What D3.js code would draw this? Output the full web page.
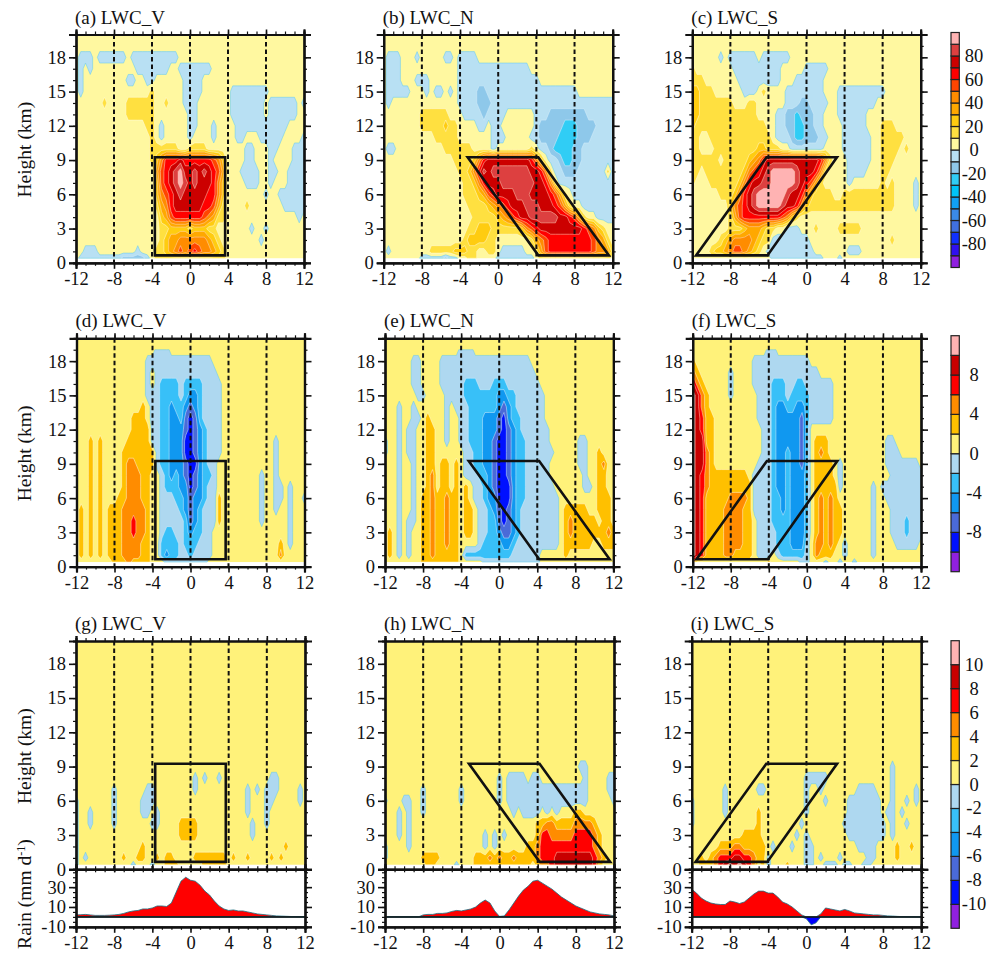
<!DOCTYPE html>
<html>
<head>
<meta charset="utf-8">
<script src="https://d3js.org/d3.v7.min.js"></script>
<style>
  body { margin: 0; background: #fff; }
  text { font-family: "Liberation Serif", serif; fill: #111; }
  .domain { stroke: #111; stroke-width: 2.2px; }
  .tick line { stroke: #111; stroke-width: 1.6px; }
  .minor line { stroke-width: 1.2px; }
  .field { filter: blur(0.7px); }
</style>
</head>
<body>
<div id="chart"></div>
<script>
// x is -12..12 every 0.5, rows go from 19 km down to 0.4 km. Values are the middle of the
// shaded band (1 = 0..2, -1 = -2..0, 3 = 2..4 ...). Short rows just carry on as background.
var xs = d3.range(-12, 12.01, 0.5);
var heights = [19,18,17,16,15,14,13,12,11,10,9,8,7,6,5,4,3,2,1,0.4];

var lwcA = [
[],
[1,-1,-1,-1,1,-1,-1,-1,-1,-1,-1,1,-1,-1,-1,-1,-1,-1,-1,-1,-1,-1,1,1],
[1,-1,1,-1,1,1,1,1,1,1,1,1,1,-1,-1,-1,-1,-1,-1,-1,1,1,-1,-1,-1,-1,-1,-1,-1],
[1,-1,1,1,1,1,1,1,1,1,1,-1,-1,1,1,-1,-1,1,1,1,1,1,1,-1,-1,-1,-1],
[1,-1,1,1,1,1,1,1,1,1,1,1,1,1,1,1,3,1,1,1,1,1,1,-1,-1,-1,-1,1,1,1,1,1,1,-1,-1,-1,-1,-1,-1,-1,-1],
[1,1,1,1,1,1,3,1,1,1,1,3,3,3,3,3,3,1,1,3,1,1,1,-1,-1,-1,1,1,1,1,1,1,1,-1,-1,-1,-1,-1,-1,-1,1,-1,-1,-1,-1,-1,-1,1,-1],
[1,1,1,1,1,1,1,1,1,1,1,3,3,3,3,3,3,1,1,1,1,1,1,1,-1,-1,1,1,1,1,1,1,1,-1,-1,-1,-1,-1,-1,-1,1,-1,-1,-1,-1,-1,-1,1,1],
[1,1,1,1,1,1,1,1,1,1,1,1,1,1,1,3,3,1,-1,1,1,1,1,1,-1,-1,1,1,1,-1,1,1,1,1,-1,-1,-1,-1,-1,-1,-1,-1,-1,-1,-1],
[1,1,1,1,1,1,1,1,1,1,1,1,1,1,1,1,3,1,-1,1,1,1,1,1,-1,1,1,1,1,-1,1,1,1,1,-1,-1,1,1,1,-1,-1,-1,-1,-1,1,1,1,1,-1],
[1,1,1,1,1,1,1,1,1,1,1,1,1,1,1,1,3,3,3,3,3,3,1,1,3,3,3,3,1,1,1,1,1,1,1,1,-1,-1,1,1,1,-1,-1,1,1,1,-1,-1,-1],
[1,1,1,1,1,1,1,1,1,1,1,1,1,1,1,1,3,5,9,13,13,13,15,13,13,13,13,13,13,11,9,5,1,1,1,1,-1,-1,1,1,1,-1,1,1,1,1,-1,-1,-1],
[1,1,1,1,1,1,1,1,1,1,1,1,1,1,1,1,1,7,11,13,15,17,19,15,15,17,15,17,15,13,11,7,1,1,1,-1,-1,-1,-1,1,1,-1,-1,1,1,-1,-1,-1,-1],
[1,1,1,1,1,1,1,1,1,1,1,1,1,1,1,1,1,5,11,13,15,17,19,17,15,17,15,15,15,13,9,5,1,1,1,1,-1,-1,-1,1,1,-1,1,1,1,-1,-1,-1,-1],
[1,1,1,1,1,1,1,1,1,1,1,1,1,1,1,1,1,5,9,11,13,15,17,15,15,15,15,15,13,13,9,5,1,1,1,1,1,1,1,1,-1,1,1,-1,-1,-1,-1,-1,-1],
[1,1,1,1,1,1,1,1,1,1,1,1,1,1,1,1,1,3,7,9,13,15,15,15,15,15,15,13,13,11,7,3,1,1,1,1,3,1,1,1,1,1,1,1,-1,-1,-1,-1,-1],
[1,1,1,1,1,1,1,1,1,1,1,1,1,1,1,1,1,1,5,7,11,13,13,13,13,13,13,11,9,7,3,3,1,1,1,1,1,1,1,1,1,1,1,1,1,1,1,-1],
[1,1,1,1,1,1,1,1,1,1,1,1,1,1,1,1,1,1,3,3,5,5,5,5,3,5,5,5,3,3,1,1,1,1,1,1,1,-1,1,1,-1],
[1,1,1,1,1,1,1,1,1,1,1,1,1,1,1,1,1,1,3,5,7,7,9,9,9,9,9,9,7,5,3,1,1,1,1,1,1,1,1,-1],
[1,1,-1,-1,-1,1,1,1,1,1,1,1,1,-1,1,1,1,3,3,5,7,9,11,9,11,13,11,9,9,7,5,3],
[1,-1,-1,-1,-1,-1,-1,-1,-1,-1,-3,-3,-3,-3,-3,-1,1,3,3,3,3,3,3,3,3,3,3,3,3,3,3,3]
];

var lwcB = [
[],
[1,-1,-1,-1,1,1,1,-1,1,1,1,1,1,-1,-1,1,-1,-1,-1,-1,1,1,1,1],
[1,-1,-1,-1,1,1,1,1,1,1,1,1,1,1,1,1,-1,-1,-1,-1,-1,-1,-1,-1,-1,-1,-1,-1,-1,-1,-1],
[1,-1,-1,-1,1,1,1,-1,-1,-1,1,1,1,1,1,1,-1,-1,-1,-1,-1,-1,-1,-1,-1,-1,-1,-1,-1,-1,-1,-1,-1],
[1,-1,-1,-1,-1,-1,1,1,1,-1,1,-1,-1,1,-1,1,-1,-1,-1,-1,-3,-3,-1,-1,-1,-1,-1,-1,-1,-1,-1,-1,-1,-1,-1,-1,-1,-1,-1,-1,-1],
[1,-1,1,1,1,1,1,1,1,1,1,1,1,1,1,1,-1,-1,-1,-1,-3,-3,-3,-1,-1,-1,-1,-1,-1,-1,-1,-1,-1,-1,-1,-1,-1,-1,-1,-1,-1,-1,-1,-1,-1,-1,-1,-1,-1],
[1,1,1,1,1,1,1,1,3,3,3,3,3,3,1,1,1,-1,-1,-1,-1,-3,-1,-1,-1,-1,1,1,1,1,1,1,-1,-1,-1,-3,-3,-3,-3,-3,-3,-3,-3,-1,-1,-1,-1,-1,-1],
[1,1,1,1,1,1,1,1,3,3,3,3,3,5,3,3,1,1,1,1,-1,-1,1,-1,-1,1,1,1,1,1,1,1,-1,-3,-3,-3,-3,-3,-5,-5,-5,-3,-3,-3,-3,-1,-1,-1,-1],
[1,1,1,1,1,1,1,1,1,1,1,3,3,3,3,3,1,1,1,1,1,1,1,-1,-1,-1,1,1,1,1,1,-1,-1,-3,-3,-3,-3,-5,-5,-5,-5,-3,-3,-3,-1,-1,-1,-1,-1],
[1,-1,-1,1,1,1,1,1,1,1,1,1,1,3,3,3,3,3,3,1,1,1,1,-1,1,1,1,1,1,1,1,3,1,-1,-1,-3,-5,-5,-5,-5,-3,-3,-1,-1,-1,-1,-1,-1,-1],
[1,1,1,1,1,1,1,1,1,1,1,1,1,1,1,3,3,3,3,5,9,13,15,15,15,15,15,15,15,15,15,13,9,5,1,-1,-1,-3,-5,-5,-3,-3,-1,-1,-1,-1,-1,-1,-1],
[1,1,1,1,1,1,1,1,1,1,1,1,1,1,1,1,3,3,5,9,13,17,15,17,17,17,17,17,17,17,17,15,15,13,9,3,-1,-1,-3,-3,-3,-1,-1,-1,-1,-1,-1,3,-1],
[1,1,1,1,1,1,1,1,1,1,1,1,1,1,1,1,1,3,3,5,9,13,15,15,15,17,17,17,17,17,17,17,15,15,13,9,3,-1,-1,-1,-1,-1,-1,-1,-1,-1,-1,-1,-1],
[1,1,1,1,1,1,1,1,1,1,1,1,1,1,1,1,1,3,3,3,5,7,11,13,15,15,15,15,17,17,17,15,15,15,15,13,11,7,3,1,-1,-1,-1,-1,-1,-1,-1,-1,-1],
[1,1,1,1,1,1,1,1,1,1,1,1,1,1,1,1,1,1,3,3,3,3,5,7,9,11,13,15,15,15,17,17,17,15,15,15,13,11,7,3,1,1,-1,-1,-1,-1,-1,-1,-1],
[1,1,1,1,1,1,1,1,1,1,1,1,1,1,1,1,1,1,1,3,3,3,3,3,5,7,9,11,13,15,15,17,17,17,17,17,17,15,15,13,11,7,3,1,1,-1,-1,-1,-1],
[1,1,1,1,1,1,1,1,1,1,1,1,1,1,1,1,1,1,3,3,5,5,5,3,3,3,3,3,3,5,9,11,13,15,15,15,15,15,15,15,15,15,13,11,9,5,3,1,1],
[1,1,1,1,1,1,1,1,1,1,1,1,1,1,1,1,1,3,5,5,5,5,3,3,1,1,1,1,1,1,1,3,7,9,11,13,13,13,13,13,13,13,13,13,11,9,7,3],
[1,-1,1,1,1,1,1,1,1,1,3,3,3,3,3,5,5,5,3,3,1,1,3,3,1,-1,-1,-1,-1,-1,1,1,3,7,11,13,13,13,13,13,13,13,13,13,11,9,9,7,3],
[1,1,1,1,1,1,1,1,-1,-1,-1,-1,-1,-3,-1,-1,1,1,3,3,1,1,1,1,-1,-1,-1,-1,-1,-1,-1,-1,1,3,3,3,3,3,3,3,3,3,3,3,3,3,3,3]
];

var lwcC = [
[],
[1,1,1,1,1,1,-1,1,-1,-1,-1,-1,-1,-1,1,-1,-1,-1,-1,-1,-1,1],
[3,1,1,1,1,1,1,1,1,-1,-1,-1,-1,-1,-1,-1,-1,-1,-1,1,1,1,1,1,-1,-1,-1,-1,-1,1],
[3,3,3,1,1,1,1,1,1,1,-1,-1,-1,-1,-1,-1,-1,-1,-1,1,1,1,-1,-1,-1,-1,-1,-1,1],
[5,5,3,3,3,1,1,1,1,1,1,-1,-1,-1,1,3,1,1,1,1,-1,-1,-1,-1,-1,-1,-1,-1,1,1,1,-1,-1,-1,-1,-1,-1,-1,-1,-1,-1,1],
[5,5,3,3,3,3,3,3,3,1,1,1,3,3,1,1,1,1,1,1,-1,-1,-1,-3,-3,-1,-1,-1,-1,1,1,-1,-1,-1,-1,-1,-1,-1,-1,1],
[5,5,3,3,3,3,3,3,3,3,3,3,3,3,1,1,1,1,-1,-1,-3,-3,-5,-3,-3,-3,-1,-1,1,1,1,-1,-1,-1,-1,-1,-1,1],
[5,3,3,3,3,3,3,3,3,3,3,3,3,3,3,3,1,1,-1,-1,-3,-3,-5,-5,-3,-3,-1,-1,1,1,1,1,-1,-1,-1,-1,-1,1,1,1,3,3,3,1,1],
[3,3,1,1,3,3,3,3,3,3,3,3,3,3,3,3,3,1,-1,-1,-1,-3,-5,-5,-3,-3,-3,-1,-1,1,1,1,-1,-1,-1,-1,-1,-1,1,1,3,3,3,3,3,1],
[3,3,1,1,1,3,3,3,3,3,3,3,3,3,5,5,3,3,3,1,1,-1,-1,-1,-1,-1,-1,-1,1,1,1,1,-1,-1,-1,-1,-1,-1,1,1,3,3,3,3,1,3],
[3,3,3,3,3,3,1,3,3,3,3,3,5,7,9,13,15,15,15,15,15,15,15,15,15,15,15,13,9,3,1,1,1,-1,-1,-1,-1,-1,1,1,3,3,3,1],
[3,3,1,3,3,3,3,3,3,3,3,5,9,11,13,15,17,19,19,19,19,19,17,15,15,15,13,9,3,1,1,1,1,-1,-1,-1,-1,1,1,1,3,3,1,1],
[3,1,1,1,3,3,3,3,3,3,5,9,13,15,15,17,17,19,19,19,19,19,17,15,13,11,7,3,1,1,1,1,1,-1,1,1,1,1,1,1,3,1,3,1,1,1,1,-1],
[1,1,1,1,1,1,3,3,3,5,9,13,15,17,19,19,19,19,19,19,17,15,15,13,9,5,3,3,3,3,1,1,3,3,3,3,3,3,3,3,3,3,3,1,1,1,1,-1],
[1,1,1,1,1,1,1,1,5,9,11,13,15,17,19,19,19,19,19,17,15,15,13,9,5,3,3,3,3,3,3,3,3,3,3,3,3,3,3,3,3,3,3,1,1,1,1,-1],
[1,1,1,1,1,1,1,1,3,7,11,13,13,13,13,13,13,13,13,11,9,5,3,1,1,1,1,1,1,1,1,1,1,1,1,1,1,1,1,1,1,1,1,1,1,1,1,1],
[1,1,1,1,1,1,1,1,3,3,3,5,7,7,7,5,3,3,1,1,-1,-1,-1,1,1,1,3,1,1,1,1,3,3,3,3,3,1,1],
[1,1,1,1,1,1,3,5,7,9,9,9,9,7,5,3,3,-1,-1,-1,-1,-1,-1,-1,-1,1,1,1,1,1,1,1,1,1,1,1,1,1,1,1,1,1,3],
[1,1,1,1,3,5,5,7,9,11,11,9,7,5,3,1,-1,-1,-1,-1,-1,-1,-1,-1,-1,-1,1,1,1,1,1,1,1,-1,-1,-1],
[1,1,1,1,1,1,1,1,1,1,1,1,1,1,1,1,1,-1,-1,-1,-1,-1,-1,-1,-1,-1,-1,-1,1,1,1,-1]
];

var lwcD = [
[1,1,1,1,1,1,1,1,1,1,1,1,1,1,1,1,1,-1,-1,-1],
[1,1,1,1,1,1,1,1,1,1,1,1,1,1,1,-1,-1,-1,-1,-1,-1,-1,-1,-1,-1,-1,-1,-1,-1],
[1,1,1,1,1,1,1,1,1,1,1,1,1,1,1,-1,1,-1,-1,-1,-1,-1,-1,-1,-1,-1,-1,-1,-1,-1],
[1,1,1,1,1,1,1,1,1,1,1,1,1,1,1,-1,1,-1,-3,-3,-3,-3,-1,-3,-3,-3,-3,-1,-1,-1,-1],
[1,1,1,1,1,1,1,1,1,1,1,1,1,1,1,-1,-1,-1,-3,-3,-3,-3,-1,-3,-5,-5,-3,-1,-1,-1,-1],
[1,1,1,1,1,1,1,1,1,1,1,1,1,1,3,1,-1,-1,-3,-3,-5,-3,-3,-5,-7,-5,-3,-1,-1,-1,-1],
[1,1,1,1,1,1,1,1,1,1,1,1,3,3,3,1,-1,-1,-3,-3,-5,-5,-3,-7,-9,-7,-3,-1,-1,-1,-1],
[1,1,1,1,1,1,1,1,1,1,1,1,3,3,3,3,-1,-1,-3,-3,-5,-5,-5,-7,-9,-7,-5,-3,-1,-1,-1],
[1,1,1,3,1,3,1,1,1,1,1,3,3,3,3,3,-1,-1,-3,-3,-5,-5,-5,-9,-9,-7,-5,-3,-1,-1,-1,1,1,1,1,1,1,1,1,1,1,1,-1],
[1,1,1,3,1,3,1,1,1,1,3,3,3,3,3,3,3,-1,-3,-3,-5,-5,-5,-9,-9,-7,-5,-3,-1,-1,-1,1,1,1,1,1,1,1,1,1,1,1,-1],
[1,1,1,3,1,3,1,1,1,1,3,5,5,3,3,3,3,-1,-3,-3,-5,-5,-5,-7,-9,-9,-5,-3,-1,-1,1,1,1,1,1,1,1,1,1,1,1,1,-1],
[1,1,1,3,1,3,1,1,1,1,3,5,5,5,3,3,1,1,-1,-3,-5,-3,-5,-7,-9,-7,-5,-3,-3,-1,1,1,1,1,1,1,1,1,1,-1,1,1,-1],
[1,1,1,3,1,3,1,1,1,1,3,5,5,5,3,3,1,1,-1,-3,-3,-3,-5,-5,-9,-7,-5,-3,-1,-1,1,1,1,1,1,1,1,1,1,-1,1,1,-1,-1,1,-1],
[1,1,1,3,1,3,1,1,1,3,3,5,5,5,3,3,1,1,-1,-1,-1,-3,-3,-5,-7,-5,-5,-3,-1,-1,3,1,1,1,1,1,1,1,1,-1,1,1,-1,-1,1,-1,1,1,-1],
[1,3,1,3,1,3,1,3,3,3,5,5,5,5,5,3,1,1,-1,-1,-1,-1,-3,-5,-7,-5,-3,-1,-1,-1,3,1,1,1,1,1,1,1,1,-1,1,1,-1,1,1,-1],
[1,3,1,3,1,3,1,3,3,3,5,5,7,5,5,3,1,1,-1,-1,-1,-1,-1,-3,-7,-5,-3,-1,-1,-1,3,1,1,1,1,1,1,1,1,-1,1,1,1,1,1,-1],
[1,3,1,3,1,3,1,3,3,3,5,5,7,5,5,3,1,1,-1,-3,-3,-1,-1,-3,-5,-3,-3,-1,-1,1,1,1,1,1,1,1,1,1,1,1,1,1,1,1,1,-1],
[1,3,1,3,1,3,1,3,3,3,5,5,5,5,3,3,1,1,-3,-3,-3,-3,-1,-3,-3,-3,-1,-1,-1,1,1,1,1,1,1,1,1,1,1,1,1,1,1,3,1,-1],
[1,3,1,3,1,3,1,3,3,3,5,5,5,5,3,3,1,1,-3,-5,-3,-3,-1,-1,-3,-1,-1,-1,-1,1,1,1,1,1,1,1,1,1,1,1,1,1,1,5],
[1,1,1,1,1,1,1,1,3,3,3,5,3,3,3,3,1,1,1,-1,-1,-1,-1,-1,-1,-1,-1,-1]
];

var lwcE = [
[1,1,1,1,1,1,1,1,1,1,1,1,1,1,1,1,-1,-1,-1,1],
[1,1,1,1,1,1,-1,-1,1,1,1,1,-1,-1,-1,-1,-1,-1,-1,-1,-1,-1,-1,-1,-1,-1,-1,-1,-1,-1,-1],
[1,1,1,1,1,1,-1,-1,1,1,1,1,-1,-1,-1,-1,-1,-1,-1,-1,-1,-1,-1,-1,-1,-1,-1,-1,-1,-1,-1,-1],
[1,1,1,1,1,1,-1,-1,1,1,1,1,-1,-1,-1,-1,-1,-3,-3,-3,-1,-1,-1,-3,-3,-3,-1,-1,-1,-1,-1,-1,-1],
[1,1,1,1,1,1,1,-1,-1,1,1,1,1,-1,-1,-1,-1,-3,-3,-3,-3,-3,-3,-3,-5,-5,-3,-3,-1,-1,-1,-1,-1,-1],
[1,1,1,-1,1,1,-1,1,1,1,1,1,1,-1,1,-1,-1,-1,-3,-3,-3,-3,-3,-3,-5,-7,-5,-3,-1,-1,-1,-1,-1,-1],
[1,1,1,-1,1,1,-1,-1,1,3,1,1,1,-1,1,1,-1,-1,-3,-3,-3,-5,-5,-5,-7,-9,-5,-3,-3,-1,-1,-1,-1,-1],
[1,1,1,-1,1,-1,-1,1,1,3,3,1,1,-1,1,1,-1,-1,-3,-3,-3,-5,-5,-5,-7,-9,-7,-5,-3,-1,-1,-1,-1,-1,-1],
[-1,1,1,-1,1,-1,-1,1,1,3,3,1,1,-1,1,1,-1,-1,-3,-3,-3,-5,-5,-7,-9,-9,-7,-5,-3,-3,-1,-1,-1,-1,-1,1,1,1,1,1,1,-1,-1],
[-1,1,1,-1,1,-1,-1,1,1,3,3,1,1,1,1,1,1,-1,-1,-3,-3,-5,-5,-7,-9,-9,-7,-5,-3,-3,-1,-1,-1,-1,-1,-1,1,1,1,1,1,-1,-1,1,1,3],
[1,1,1,-1,1,1,-1,1,1,3,3,1,3,3,1,3,1,-1,-1,-3,-3,-5,-5,-7,-9,-9,-7,-5,-3,-3,-1,-1,-1,-1,-1,1,1,1,1,1,1,-1,-1,1,1,3,5],
[1,1,1,-1,1,1,-1,1,1,3,5,1,3,3,1,3,1,-1,-1,-1,-3,-3,-5,-7,-9,-9,-7,-5,-3,-3,-1,-1,-1,-1,-1,1,1,1,1,1,1,1,-1,1,1,3,3],
[1,1,1,-1,1,1,-1,1,1,3,5,1,3,3,1,3,1,3,1,-1,-1,-3,-5,-7,-9,-9,-9,-5,-3,-3,-1,-1,-1,-1,-1,-1,1,1,1,1,1,1,-1,-1,1,3,3],
[1,1,1,-1,1,1,-1,1,3,3,5,3,3,5,3,3,1,3,1,-1,-1,-3,-5,-5,-9,-9,-9,-5,-3,-3,-1,-1,-1,-1,-1,-1,-1,1,1,1,1,1,1,1,1,3,3,3],
[1,1,1,-1,1,1,-1,1,3,3,5,3,3,5,3,3,1,3,3,1,-1,-1,-3,-5,-7,-9,-7,-5,-3,-1,-1,-1,-1,-1,-1,-1,-1,1,3,3,3,3,3,1,1,3,3,3],
[1,1,1,-1,1,-1,-1,1,3,3,5,3,3,5,3,3,1,3,3,1,-1,-1,-3,-3,-7,-9,-7,-5,-3,-1,-1,-1,-1,-1,-1,-1,-1,1,3,5,3,3,3,3,3,1,3,3],
[1,3,1,-1,1,-1,1,1,3,3,5,3,3,5,3,3,1,3,3,1,-1,-1,-3,-3,-5,-7,-7,-5,-3,-1,-1,-1,-1,-1,-1,-1,-1,1,3,5,3,3,3,3,3,3,3,5,3],
[1,3,1,-1,1,-1,1,1,3,3,5,3,3,5,3,3,1,1,1,1,-1,-3,-3,-3,-3,-5,-5,-3,-1,-1,-1,-1,-1,-1,-1,-1,-1,1,3,3,3,3,3,3,1,1,3,3,3],
[1,3,1,-1,1,-1,1,1,3,3,5,3,3,3,3,3,1,-3,-3,-3,-3,-3,-3,-3,-3,-3,-3,-1,-1,-1,-1,-1,-1,1,1,1,1,1,3,1,1,1,1,1],
[1,1,1,1,1,1,1,1,3,3,3,3,3,3,3,3,1,1,1,1,1,-1,-1,-1,-1,-1,-1,-1,-1,-1,-1,-1,-1]
];

var lwcF = [
[1,1,1,1,1,1,1,1,1,1,1,1,1,1,1,1,-1,-1,1],
[3,1,1,1,1,1,1,1,1,1,1,1,1,-1,-1,-1,-1,-1,-1,-1,-1,-1,-1,-1,-1],
[5,3,1,1,1,1,1,1,-1,1,1,1,1,-1,-1,-1,-1,-1,-1,-1,-1,-1,-1,-1,-1,-1,-1],
[9,5,3,1,1,1,1,1,-1,1,1,1,1,-1,-1,-1,-1,-3,-3,-3,-1,-1,-3,-3,-1,-1,-1,-1,-1,-1],
[11,9,5,3,1,1,1,1,-1,1,1,1,1,1,-1,-1,-1,-3,-3,-3,-1,-3,-3,-3,-3,-1,-1,-1,-1,-1,1],
[11,9,5,3,1,1,1,1,1,1,1,1,1,1,-1,-1,-1,-3,-5,-5,-3,-3,-5,-5,-3,-1,-1,-1,-1,-1,1],
[11,9,7,3,3,1,1,1,1,1,1,1,1,1,-1,-1,-1,-3,-5,-5,-5,-5,-5,-7,-3,-1,-1,-1,-1,-1,1],
[11,9,7,3,3,1,1,1,1,1,1,1,1,1,1,-1,-1,-3,-5,-5,-5,-5,-5,-7,-3,1,1,1,1,1,1],
[11,9,9,3,3,1,1,1,1,1,1,1,1,1,1,-1,-1,-3,-5,-5,-5,-5,-5,-7,-3,1,3,3,3,1,1,1,1,1,1,1,1,1,1,1,1,-1,-1,1,1],
[11,9,9,5,3,1,1,1,1,1,1,1,1,1,1,-1,-1,-3,-5,-5,-3,-5,-5,-7,-3,1,3,5,3,1,1,1,1,1,1,1,1,1,1,1,1,-1,-1,-1,1,1],
[11,9,9,5,3,1,1,1,1,1,1,1,1,1,-1,-1,-1,-3,-5,-5,-3,-5,-5,-7,-3,1,3,3,3,3,1,-1,1,1,1,1,1,1,1,1,1,-1,-1,-1,-1,-1,-1,-1],
[11,9,7,5,3,3,3,3,3,3,3,3,1,-1,-1,-1,-1,-3,-5,-5,-3,-5,-5,-5,-3,1,3,3,3,3,1,-1,1,1,1,1,1,1,1,1,1,1,-1,-1,-1,-1,-1,-1,-1],
[11,9,7,5,3,3,3,3,3,3,3,3,3,-1,-1,-1,-1,-3,-5,-5,-3,-5,-5,-5,-3,1,3,3,3,3,3,-1,1,1,1,1,1,1,-1,1,-1,-1,-1,-1,-1,-1,-1,-1,-1],
[11,9,7,3,3,3,3,3,5,5,5,5,3,-1,-1,-1,-1,-3,-3,-5,-3,-5,-5,-5,-3,1,3,5,3,5,3,1,1,1,1,1,1,1,-1,1,1,-1,-1,-1,-1,-1,-1,-1,-1],
[11,9,7,3,3,3,3,5,5,5,5,3,3,-1,-1,-1,-1,-3,-3,-5,-3,-5,-5,-5,-3,1,3,5,3,5,3,3,1,1,1,1,1,1,-1,1,1,1,-1,-1,-1,-1,-1,-1,-1],
[11,9,7,3,3,3,3,5,5,5,5,3,3,1,-1,-1,-1,-3,-3,-3,-3,-5,-5,-5,-3,1,3,5,3,5,3,3,1,1,1,1,1,1,-1,1,1,1,-1,-1,-1,-3,-1,-1,-1],
[11,9,7,3,3,3,3,5,5,5,5,3,3,1,-1,-1,-1,-1,-3,-3,-3,-5,-5,-5,-3,1,3,5,3,5,3,3,1,1,1,1,1,1,-1,1,1,1,-1,-1,-1,-3,-1,-1,-1],
[11,9,7,3,3,3,3,5,5,5,5,3,3,1,-1,-1,-1,-1,-3,-3,-3,-5,-5,-5,-1,1,5,5,3,5,3,1,-1,1,1,1,1,1,-1,1,1,1,1,-1,-1,-1,-1,-1],
[11,9,7,3,3,3,3,5,5,3,3,3,3,1,-1,-1,-1,1,-1,-3,-3,-3,-3,-3,-1,1,5,3,3,3,1,1,-1,1,1,1,1,1,-1,1,1,1,1,1,1,1,1,1],
[5,1,1,1,1,1,1,1,1,1,1,1,1,1,1,1,3,1,1,1,1,1,1,-1,-1,1,1,1,-1,1,1,-1,1,1,-1]
];

// bottom row: only the rows up to 9 km are written, everything above is background
var lwcG = [
[],
[],
[1,1,1,1,1,1,1,1,1,1,1,1,1,1,1,1,1,1,1,1,1,1,1,1,1,-1,1,-1,1,1,-1,1,1,1,1,1,1,1,1,1,1,-1,-1],
[1,1,1,1,1,1,1,1,-1,1,1,1,1,1,1,-1,-1,1,1,1,1,1,1,1,1,-1,1,1,1,1,1,1,1,1,1,1,-1,1,-1,1,-1,-1,-1,1,1,1,1,-1],
[-1,1,1,1,1,1,1,1,-1,1,1,1,1,1,-1,-1,-1,1,1,1,1,1,1,1,1,1,1,1,1,1,1,1,1,1,1,1,-1,1,1,1,-1,-1,1,1,1,1,1,-1],
[-1,1,1,-1,1,1,1,1,-1,1,1,1,1,1,-1,-1,1,-1,1,1,1,1,1,1,1,1,1,1,1,1,1,1,1,1,1,1,-1,1,1,1,-1,1],
[-1,1,1,-1,1,1,1,1,-1,1,1,1,1,1,1,1,-1,-1,1,1,1,1,3,3,3,3,1,1,1,1,1,1,1,1,1,1,1,-1,1,1,-1,1],
[-1,1,1,1,1,1,1,1,1,1,1,1,1,1,1,1,1,1,1,1,1,1,3,3,3,3,1,1,1,1,1,1,1,1,1,1,1,-1],
[-1,1,1,1,1,1,1,1,1,1,1,1,1,1,3,1,1,1,1,1,1,1,1,1,1,1,1,1,1,1,1,1,1,1,1,1,1,1,1,1,1,1,1,1,3],
[-1,1,-1,1,1,1,1,1,1,1,3,1,1,3,3,1,1,3,1,3,3,1,1,1,1,3,3,3,3,3,3,3,1,3,1,1,3,1,1,1,1,3,1,3],
[-1,1,1,1,1,1,1,1,1,1,1,1,-1,1,1,1,-1,1,1,3,3,3,1,1,1,1,1,3,3,3,3,3,1,1,1,1,1,1,1,1,1,1,1,1]
];

var lwcH = [
[],
[1,1,1,1,1,1,1,1,1,1,1,1,1,1,1,1,1,1,1,1,1,1,1,1,1,1,1,1,1,1,1,1,1,1,1,1,1,1,1,1,1,-1,-1],
[1,1,1,1,1,1,1,1,1,1,1,1,1,1,1,1,1,1,1,1,1,1,1,1,-1,1,-1,-1,-1,-1,1,-1,-1,1,1,1,1,1,1,1,1,1,-1,1,1,1,1,-1,-1],
[1,1,1,1,1,1,1,1,-1,1,1,1,1,1,1,1,-1,1,1,1,1,1,1,1,-1,1,-1,-1,-1,-1,-1,-1,-1,-1,-1,-1,-1,-1,-1,-1,-1,-1,-1,1,1,1,1,-1,-1],
[-1,1,1,1,-1,-1,1,1,-1,1,1,1,1,1,1,1,-1,1,1,1,1,1,1,1,-1,1,-1,-1,-1,-1,-1,-1,-1,-1,-1,-1,-1,-1,-1,-1,-1,-1,-1,1,1,1,1,1,-1],
[1,1,1,-1,1,-1,1,1,-1,1,1,1,1,1,1,1,1,1,1,1,1,1,1,1,1,1,1,-1,1,-1,-1,-1,-1,1,-1,1,-1,1,1,1,3,3,1],
[1,1,1,-1,1,-1,1,1,1,1,1,1,1,1,1,1,1,1,1,1,1,1,1,1,1,1,1,1,1,1,1,1,3,3,5,5,3,3,3,3,5,5,5,5,3,1],
[1,1,1,-1,1,-1,1,1,1,1,1,1,1,1,1,1,1,1,1,1,1,-1,1,-1,1,-1,1,1,1,1,1,1,3,7,7,5,5,5,5,5,7,7,7,7,5,3],
[-1,1,1,1,1,-1,1,1,1,1,1,1,1,1,1,1,1,1,1,1,1,-1,1,-1,1,1,1,1,1,1,3,3,5,7,7,7,7,7,7,7,7,7,7,7,5,3,1],
[-1,1,1,1,1,1,1,1,3,3,3,3,1,1,1,1,1,1,1,3,3,3,5,3,5,3,3,5,3,3,3,3,5,7,7,7,9,9,9,9,9,9,9,9,7,5,3],
[1,1,1,1,1,1,1,1,1,3,3,1,1,1,1,-1,1,1,1,3,3,3,3,3,3,3,3,3,3,3,3,1,3,5,5,7,9,9,9,9,9,9,9,9,7,3]
];

var lwcI = [
[],
[1,1,1,1,1,1,1,1,1,1,1,1,1,1,1,1,1,1,1,1,1,1,1,1,1,1,1,1,1,1,1,1,1,1,1,1,1,1,1,1,1,1,-1,1],
[1,1,1,1,1,1,1,1,1,1,1,1,1,1,1,1,1,1,1,1,1,1,1,1,-1,-1,-1,-1,-1,1,1,1,1,1,1,1,1,1,1,1,1,1,-1,1],
[1,1,1,1,1,1,1,-1,1,1,1,1,1,1,-1,-1,1,1,1,1,1,1,1,1,-1,1,1,-1,1,1,1,1,1,1,1,-1,-1,-1,-1,1,1,1,-1,1,1,1,1,-1,1],
[-1,1,1,1,1,1,1,-1,1,1,1,1,1,1,1,1,1,1,1,1,1,1,1,1,-1,1,1,1,-1,1,1,1,1,-1,-1,-1,-1,-1,-1,-1,1,1,-1,1,1,-1,1,-1],
[-1,1,1,1,1,1,1,-1,1,1,1,1,1,1,3,1,1,1,1,1,1,1,1,1,-1,1,1,1,1,1,1,1,1,-1,-1,-1,-1,-1,-1,-1,1,-1,-1,1,-1,1],
[-1,1,1,1,1,1,1,1,1,1,1,1,1,1,3,1,1,1,1,1,1,1,1,-1,1,1,1,1,1,1,1,1,-1,-1,-1,-1,-1,-1,-1,-1,-1,1,-1,1,1,-1],
[1,1,1,1,1,1,1,1,1,1,1,3,3,3,3,1,1,1,1,1,1,1,-1,1,-1,1,1,1,1,1,1,1,1,-1,-1,-1,-1,-1,-1,-1,-1,1,-1,1],
[1,1,1,1,1,1,3,3,3,5,5,3,3,3,3,3,1,-1,1,1,1,-1,1,1,-1,-1,1,1,1,1,1,1,1,1,1,-1,-1,-1,-1,1,1,1,1,3,1,1,3],
[1,1,3,1,3,5,7,7,7,9,9,7,7,5,3,3,-1,1,1,1,1,1,1,1,-1,-1,1,-1,1,1,1,-1,1,1,1,1,1,-1,-1,1,1,1,1,3],
[1,1,3,3,3,5,7,9,11,9,11,9,7,5,1,3,-1,1,1,1,3,1,1,1,-1,-1,1,1,-1,-1,-1,1,-1,-1,1,1,-1,-1,1,1,1,1,1,1]
];

var rainV = [2,2.2,2.5,2,1.5,1.5,1.5,1.7,2,2.5,3.5,5,6,6.5,8,8,9,11,11,10.5,14,25,36,40,37,36,32,26,22,16,11,8,6.5,7,6,6,5,4,3,2.5,2,1.5,1,0.8,0.6,0.4,0.3,0.2,0.1];
var rainN = [0,0,0,0,0,0,0,0,2,2.5,2.5,3.5,3.5,4,5.5,6.5,6,7,8,10,14,17,14,6,0.5,1,7,14,21,27,31,36,37,34,31,28,24,20,17,14,11,9,7,5,4,3,2.5,2,1];
var rainS = [28,24,19,16,14,13,12.5,12.5,16,15,13.5,15,19,23,26,26,24,24,20,15,13,10,6,2,-2,-8,-6,3,9,8,7,6,7.5,6,4,3.5,3,2.5,2,2,1.5,1,0.8,0.5,0.3,0.2,0.1,0,0];

// outlines of the advancing boxes, [x, km]
var boxV = [[-3.7,0.65],[3.7,0.65],[3.7,9.25],[-3.7,9.25]];
var boxN = [[4.2,0.65],[11.6,0.65],[4.2,9.25],[-3.2,9.25]];
var boxS = [[-11.6,0.65],[-4.1,0.65],[3.2,9.25],[-4.2,9.25]];

var xTicks = [-12,-8,-4,0,4,8,12];
var dashTicks = [-8,-4,0,4,8];
var hTicks = [0,3,6,9,12,15,18];
var rainTicks = [30,10,-10];

var posTop = ["#fff8a0","#ffe040","#ffcc10","#ffa800","#ff8c00","#ff4500","#ff0000","#cc0000","#dd4040","#ffb3b3"];
var negTop = ["#b8e0f3","#8ec8ea","#30cdf5","#00c4f8","#10a0f5","#3a8ae8","#4070e0","#1030ff","#3010f0","#9020e0"];
var posLow = ["#fff27a","#ffc000","#ff8c00","#ff0000","#c80000","#ffb3b3"];
var negLow = ["#aed8f0","#38c0f8","#1098f0","#4a6ad8","#0010ff","#9020e0"];

var topLabels = [80,60,40,20,0,-20,-40,-60,-80];
var midLabels = [8,4,0,-4,-8];
var lowLabels = [10,8,6,4,2,0,-2,-4,-6,-8,-10];

var svg = d3.select("#chart").append("svg").attr("width", 997).attr("height", 956);

var panels = [
  { name: "(a) LWC_V", grid: lwcA, box: boxV, left: 76,    top: 34.5,  w: 228,   pos: posTop, neg: negTop, yTitle: true },
  { name: "(b) LWC_N", grid: lwcB, box: boxN, left: 383.7, top: 34.5,  w: 229,   pos: posTop, neg: negTop },
  { name: "(c) LWC_S", grid: lwcC, box: boxS, left: 692.3, top: 34.5,  w: 228.4, pos: posTop, neg: negTop },
  { name: "(d) LWC_V", grid: lwcD, box: boxV, left: 76.5,  top: 338.3, w: 228,   pos: posLow, neg: negLow, yTitle: true },
  { name: "(e) LWC_N", grid: lwcE, box: boxN, left: 385,   top: 338.3, w: 228.4, pos: posLow, neg: negLow },
  { name: "(f) LWC_S", grid: lwcF, box: boxS, left: 692.7, top: 338.3, w: 228.3, pos: posLow, neg: negLow },
  { name: "(g) LWC_V", grid: lwcG, box: boxV, left: 76,    top: 641,   w: 229,   pos: posLow, neg: negLow, yTitle: true, rain: rainV },
  { name: "(h) LWC_N", grid: lwcH, box: boxN, left: 385,   top: 641,   w: 229,   pos: posLow, neg: negLow, rain: rainN },
  { name: "(i) LWC_S", grid: lwcI, box: boxS, left: 691.7, top: 641,   w: 229.5, pos: posLow, neg: negLow, rain: rainS }
];

var ph = 228.3;

panels.forEach(function(p, n) {
  var g = svg.append("g").attr("transform", "translate(" + p.left + "," + p.top + ")");
  var x = d3.scaleLinear().domain([-12, 12]).range([0, p.w]);
  var y = d3.scaleLinear().domain([0, 20]).range([ph, 0]);

  // pad the grid out, rows missing at the top and values missing at the end are background
  var rows = p.grid.slice();
  while (rows.length < heights.length) rows.unshift([]);
  var nx = xs.length, ny = heights.length;
  var values = [];
  rows.forEach(function(r) {
    for (var i = 0; i < nx; i++) values.push(i < r.length ? r[i] : 1);
  });

  var rowToKm = d3.scaleLinear().domain(heights.map(function(d, i) { return i + 0.5; })).range(heights).clamp(true);
  var colToX = d3.scaleLinear().domain([0.5, nx - 0.5]).range([-12, 12]).clamp(true);
  var path = d3.geoPath(d3.geoTransform({
    point: function(a, b) { this.stream.point(x(colToX(a)), y(rowToKm(b))); }
  }));
  var contours = d3.contours().size([nx, ny]).smooth(true);

  g.append("rect").attr("x", 0).attr("y", 0).attr("width", p.w).attr("height", y(0.4))
    .attr("fill", p.pos[0]);

  var field = g.append("g").attr("class", "field");
  // nested contours: 2,4,6.. upward on the values, 0,2,4.. upward on the negated values
  p.pos.slice(1).forEach(function(c, i) {
    field.append("path").attr("d", path(contours.contour(values, (i + 1) * 2)))
      .attr("fill", c).attr("stroke", i >= 2 ? "#ffd9c0" : "#fffbe0").attr("stroke-width", 0.5);
  });
  var flipped = values.map(function(v) { return -v; });
  p.neg.forEach(function(c, i) {
    field.append("path").attr("d", path(contours.contour(flipped, i * 2)))
      .attr("fill", c).attr("stroke", i == 0 ? "#5cc8f0" : "#d8eefa").attr("stroke-width", 0.5);
  });

  // dashed lines and the box
  g.selectAll(".dash").data(dashTicks).enter().append("line")
    .attr("x1", function(d) { return x(d); }).attr("x2", function(d) { return x(d); })
    .attr("y1", 0).attr("y2", ph)
    .attr("stroke", "#111").attr("stroke-width", 2).attr("stroke-dasharray", "4.5,3");

  var line = d3.line().x(function(d) { return x(d[0]); }).y(function(d) { return y(d[1]); }).curve(d3.curveLinearClosed);
  g.append("path").attr("d", line(p.box)).attr("fill", "none").attr("stroke", "#111")
    .attr("stroke-width", 2.6).attr("stroke-linejoin", "miter");

  drawAxes(g, x, y, ph, d3.range(-12, 13, 1), d3.range(0, 21, 1), hTicks, !p.rain);

  g.append("text").attr("x", -1).attr("y", -11).attr("font-size", 19).text(p.name);

  if (p.yTitle) {
    g.append("text").attr("transform", "translate(" + (31 - p.left) + "," + (ph / 2 + 1) + ") rotate(-90)")
      .attr("text-anchor", "middle").attr("font-size", 19.5).text("Height (km)");
  }

  if (p.rain) {
    var rh = 57.5;
    var r = g.append("g").attr("transform", "translate(0," + ph + ")");
    var yr = d3.scaleLinear().domain([-10, 48]).range([rh, 0]);
    var area = d3.area().x(function(d, i) { return x(xs[i]); }).y0(yr(0));
    r.append("path").attr("d", area.y1(function(d) { return yr(Math.max(d, 0)); })(p.rain))
      .attr("fill", "#ff0000").attr("stroke", "#1a6f80").attr("stroke-width", 0.8);
    r.append("path").attr("d", area.y1(function(d) { return yr(Math.min(d, 0)); })(p.rain))
      .attr("fill", "#0000ff").attr("stroke", "#1a6f80").attr("stroke-width", 0.8);
    r.append("line").attr("x1", 0).attr("x2", p.w).attr("y1", yr(0)).attr("y2", yr(0))
      .attr("stroke", "#111").attr("stroke-width", 1.5);
    drawAxes(r, x, yr, rh, d3.range(-12, 13, 1), d3.range(-10, 46, 5), rainTicks, true);
    if (p.yTitle) {
      var t = r.append("text").attr("transform", "translate(" + (31 - p.left) + "," + (rh / 2 - 4) + ") rotate(-90)")
        .attr("text-anchor", "middle").attr("font-size", 19.5);
      t.append("tspan").text("Rain (mm d");
      t.append("tspan").attr("dy", -6).attr("font-size", 12).text("-1");
      t.append("tspan").attr("dy", 6).text(")");
    }
  }
});

function drawAxes(g, x, y, h, xMinor, yMinor, yMajor, showX) {
  var w = x.range()[1];
  var plain = function(d) { return String(d); };
  // minor ticks first, then major with labels
  g.append("g").attr("class", "minor").attr("transform", "translate(0," + h + ")")
    .call(d3.axisBottom(x).tickValues(xMinor).tickSize(3).tickFormat(""));
  g.append("g").attr("class", "minor").call(d3.axisTop(x).tickValues(xMinor).tickSize(3).tickFormat(""));
  g.append("g").attr("class", "minor").call(d3.axisLeft(y).tickValues(yMinor).tickSize(3).tickFormat(""));
  g.append("g").attr("class", "minor").attr("transform", "translate(" + w + ",0)")
    .call(d3.axisRight(y).tickValues(yMinor).tickSize(3).tickFormat(""));

  var bottom = g.append("g").attr("transform", "translate(0," + h + ")")
    .call(d3.axisBottom(x).tickValues(xTicks).tickSize(showX ? 6 : 3).tickPadding(3).tickFormat(showX ? plain : ""));
  g.append("g").call(d3.axisTop(x).tickValues(xTicks).tickSize(5).tickFormat(""));
  var left = g.append("g").call(d3.axisLeft(y).tickValues(yMajor).tickSize(7).tickPadding(3).tickFormat(plain));
  g.append("g").attr("transform", "translate(" + w + ",0)")
    .call(d3.axisRight(y).tickValues(yMajor).tickSize(7).tickFormat(""));
  [bottom, left].forEach(function(a) {
    a.selectAll("text").attr("font-size", 18.5).attr("fill", "#111");
  });
}

// colour bars
var bars = [
  { top: 32.5,  h: 235,   pos: posTop, neg: negTop, labels: topLabels, lo: -100, hi: 100 },
  { top: 335.7, h: 236,   pos: posLow, neg: negLow, labels: midLabels, lo: -12, hi: 12 },
  { top: 640.7, h: 287.6, pos: posLow, neg: negLow, labels: lowLabels, lo: -12, hi: 12 }
];

bars.forEach(function(b) {
  var s = d3.scaleLinear().domain([b.lo, b.hi]).range([b.top + b.h, b.top]);
  var colors = b.neg.slice().reverse().concat(b.pos);
  var step = (b.hi - b.lo) / colors.length;
  var bar = svg.append("g");
  bar.selectAll("rect").data(colors).enter().append("rect")
    .attr("x", 951).attr("width", 8.3)
    .attr("y", function(d, i) { return s(b.lo + (i + 1) * step); })
    .attr("height", function(d, i) { return s(b.lo + i * step) - s(b.lo + (i + 1) * step); })
    .attr("fill", function(d) { return d; })
    .attr("stroke", "#222").attr("stroke-width", 1.2);
  bar.selectAll("text").data(b.labels).enter().append("text")
    .attr("x", 974).attr("y", function(d) { return s(d) + 6; })
    .attr("text-anchor", "middle").attr("font-size", 18.5)
    .text(function(d) { return d; });
});
</script>
</body>
</html>
